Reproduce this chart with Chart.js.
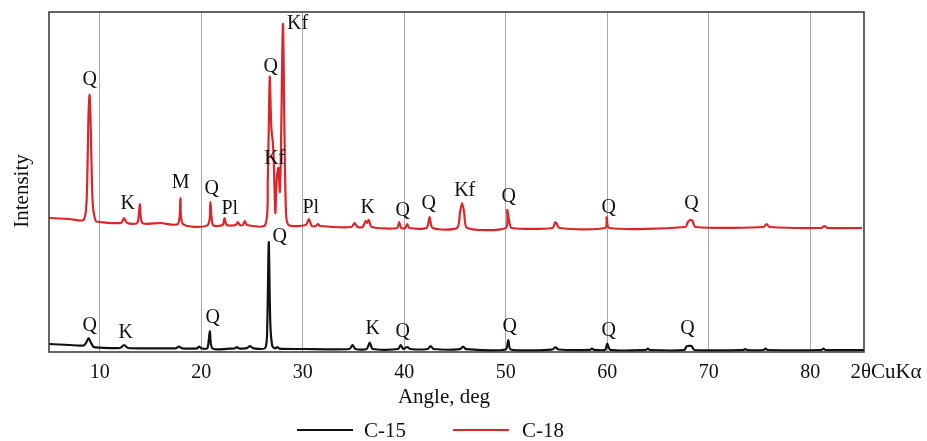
<!DOCTYPE html>
<html>
<head>
<meta charset="utf-8">
<script src="https://cdn.jsdelivr.net/npm/chart.js@4.4.1/dist/chart.umd.min.js"></script>
<style>
  html, body { margin: 0; padding: 0; background: #fff; }
  #wrap { width: 927px; height: 441px; position: relative; }
</style>
</head>
<body>
<div id="wrap"><canvas id="xrdChart" width="927" height="441"></canvas></div>
<script>
// Tick labels on the angle axis
const angleTicks = [10, 20, 30, 40, 50, 60, 70, 80];

// C-15 (black, lower trace)
const c15Angle = [5, 7, 8.4, 8.7, 8.9, 9.1, 9.4, 10, 12.0, 12.4, 12.8, 15, 17.5, 17.8, 18.1, 19.6, 19.8, 20.0,
  20.6, 20.85, 21.1, 23.3, 23.5, 23.7, 24.5, 24.8, 25.1, 26.3, 26.5, 26.65, 26.8, 27.0, 27.3, 27.5, 27.7, 30,
  34.6, 34.9, 35.2, 36.3, 36.6, 36.9, 39.4, 39.65, 39.9, 40.3, 40.6, 42.3, 42.6, 42.9, 45.5, 45.8, 46.1,
  50.0, 50.25, 50.5, 54.6, 54.9, 55.2, 58.3, 58.5, 58.7, 59.8, 60.0, 60.3, 63.8, 64.0, 64.2,
  67.6, 67.8, 68.0, 68.3, 68.6, 73.4, 73.6, 73.8, 75.4, 75.6, 75.8, 81.1, 81.3, 81.5, 85.3];
const c15Intensity = [8, 7, 6.5, 10, 14, 10, 5, 4.3, 4, 7, 4, 3.7, 3.7, 5.5, 3.7, 3.7, 5.5, 3.7,
  3.7, 21, 3.7, 3.7, 5, 3.7, 3.8, 6, 3.8, 4, 25, 110, 30, 6, 3.5, 5, 3.3, 3,
  3, 7, 3, 3, 9.5, 3, 3, 7, 3, 5, 3, 3, 6, 3, 2.8, 5.5, 2.8,
  2.5, 12, 2.5, 2.5, 5, 2.5, 2.2, 3.5, 2.2, 2.2, 8.5, 2.2, 2, 3.5, 2,
  2, 5.5, 6, 6, 2, 2, 3, 2, 2, 3.5, 2, 2, 3.5, 2, 2];

// C-18 (red, upper trace)
const c18Angle = [5, 7, 8.4, 8.7, 8.9, 9.0, 9.1, 9.3, 9.6, 10, 12.1, 12.4, 12.7, 13.7, 13.95, 14.2, 16,
  17.7, 17.95, 18.2, 20.65, 20.9, 21.15, 22.1, 22.3, 22.5, 23.4, 23.6, 23.8, 24.1, 24.3, 24.5,
  26.3, 26.55, 26.75, 26.9, 27.05, 27.15, 27.3, 27.45, 27.6, 27.75, 27.85, 28.05, 28.2, 28.35, 28.6,
  30.3, 30.6, 30.9, 31.3, 31.5, 31.7, 34.8, 35.1, 35.4, 35.9, 36.2, 36.35, 36.5, 36.8,
  39.3, 39.5, 39.7, 40.1, 40.3, 40.5, 42.2, 42.5, 42.8, 45.2, 45.5, 45.7, 45.9, 46.2,
  50.0, 50.15, 50.35, 50.6, 54.6, 54.9, 55.3, 59.8, 59.95, 60.2,
  67.7, 67.95, 68.2, 68.4, 68.7, 75.4, 75.7, 76.0, 81.1, 81.4, 81.7, 85.1];
const c18Intensity = [134, 133, 132, 150, 240, 257, 230, 150, 131, 130, 129, 134, 129, 129, 148, 129, 129,
  128, 154, 128, 127, 150, 127, 127, 134, 127, 127, 130, 127, 127, 131, 127,
  127, 170, 275, 225, 210, 190, 139, 175, 184, 160, 200, 328, 220, 140, 127,
  127, 133, 126, 126, 128, 126, 125, 129, 125, 125, 131, 129, 132, 125,
  124, 130, 124, 124, 128, 124, 124, 135, 124, 124, 140, 149, 140, 124,
  124, 142, 130, 124, 124, 130, 124, 124, 135, 124,
  125, 130, 132, 131, 125, 125, 128, 125, 124, 126, 124, 124];

// Phase labels above peaks
const c18LabelText = ["Q", "K", "M", "Q", "Pl", "Q", "Kf", "Kf", "Pl", "K", "Q", "Q", "Kf", "Q", "Q", "Q"];
const c18LabelAngle = [9.0, 12.76, 17.98, 21.03, 22.81, 26.85, 27.24, 29.5, 30.79, 36.4, 39.85, 42.41, 45.96, 50.3, 60.15, 68.3];
const c18LabelY = [272, 148, 169, 163, 143, 285, 193, 328, 144, 144, 141, 148, 161, 155, 144, 148];

const c15LabelText = ["Q", "K", "Q", "Q", "K", "Q", "Q", "Q", "Q"];
const c15LabelAngle = [9.0, 12.56, 21.13, 27.73, 36.9, 39.85, 50.4, 60.15, 67.9];
const c15LabelY = [26, 19, 34, 115, 23, 20, 25, 21, 23];

const serif = "'Liberation Serif', 'DejaVu Serif', serif";
const red = "#d9262a";
const black = "#111111";

function toPoints(xs, ys) {
  return xs.map((x, i) => ({ x: x, y: ys[i] }));
}

const decorPlugin = {
  id: "decor",
  afterDatasetsDraw(chart) {
    const { ctx, chartArea: a, scales } = chart;
    ctx.save();
    // frame
    ctx.strokeStyle = "#333";
    ctx.lineWidth = 1.5;
    ctx.strokeRect(a.left, a.top, a.right - a.left, a.bottom - a.top);

    // peak labels
    ctx.font = "20px " + serif;
    ctx.fillStyle = "#111";
    ctx.textAlign = "center";
    ctx.textBaseline = "middle";
    c18LabelText.forEach((t, i) => {
      ctx.fillText(t, scales.x.getPixelForValue(c18LabelAngle[i]), scales.y.getPixelForValue(c18LabelY[i]));
    });
    c15LabelText.forEach((t, i) => {
      ctx.fillText(t, scales.x.getPixelForValue(c15LabelAngle[i]), scales.y.getPixelForValue(c15LabelY[i]));
    });

    // axis titles
    ctx.font = "21px " + serif;
    ctx.fillText("Angle, deg", 444, 397);
    ctx.fillText("2\u03b8CuK\u03b1", 886, 372);
    ctx.save();
    ctx.translate(22, 191);
    ctx.rotate(-Math.PI / 2);
    ctx.fillText("Intensity", 0, 0);
    ctx.restore();

    // legend
    ctx.lineWidth = 1.8;
    ctx.strokeStyle = black;
    ctx.beginPath(); ctx.moveTo(297, 430); ctx.lineTo(353, 430); ctx.stroke();
    ctx.strokeStyle = red;
    ctx.beginPath(); ctx.moveTo(453, 430); ctx.lineTo(509, 430); ctx.stroke();
    ctx.font = "21px " + serif;
    ctx.textAlign = "left";
    ctx.fillText("C-15", 364, 431);
    ctx.fillText("C-18", 522, 431);
    ctx.restore();
  }
};

new Chart(document.getElementById("xrdChart").getContext("2d"), {
  type: "line",
  data: {
    datasets: [
      {
        label: "C-15",
        data: toPoints(c15Angle, c15Intensity),
        borderColor: black,
        borderWidth: 2.2,
        pointRadius: 0,
        tension: 0.25
      },
      {
        label: "C-18",
        data: toPoints(c18Angle, c18Intensity),
        borderColor: red,
        borderWidth: 2.2,
        pointRadius: 0,
        tension: 0.25
      }
    ]
  },
  options: {
    responsive: false,
    animation: false,
    layout: { padding: { left: 49, right: 63, top: 12, bottom: 0 } },
    plugins: {
      legend: { display: false },
      tooltip: { enabled: false }
    },
    scales: {
      x: {
        type: "linear",
        min: 5,
        max: 85.3,
        afterBuildTicks: (s) => { s.ticks = angleTicks.map(v => ({ value: v })); },
        afterFit: (s) => { s.height = 89; },
        ticks: { color: "#111", font: { family: serif, size: 20 }, padding: 9 },
        grid: { color: "#a8a8a8", lineWidth: 1, drawTicks: false },
        border: { display: false }
      },
      y: {
        display: false,
        min: 0,
        max: 340
      }
    }
  },
  plugins: [decorPlugin]
});
</script>
</body>
</html>
